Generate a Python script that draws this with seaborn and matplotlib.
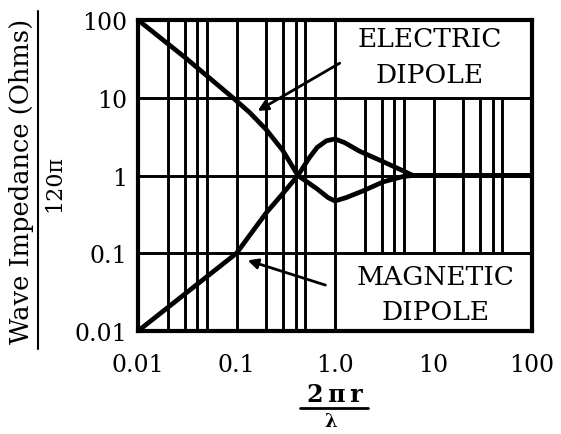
import matplotlib
matplotlib.use("Agg")
import matplotlib.pyplot as plt
import seaborn as sns
import pandas as pd
from matplotlib.lines import Line2D

# ---- data ----
electric_x = [0.01, 0.03, 0.092, 0.137, 0.2, 0.295, 0.42, 0.66, 0.85, 1.0, 1.3, 1.9, 3.1, 4.9, 6.2, 100]
electric_y = [100, 33, 10, 6.4, 3.9, 2.1, 1.0, 0.67, 0.52, 0.47, 0.52, 0.63, 0.83, 0.97, 1.0, 1.0]
magnetic_x = [0.01, 0.03, 0.1, 0.2, 0.3, 0.42, 0.55, 0.66, 0.82, 1.0, 1.25, 1.78, 3.1, 4.9, 6.2, 100]
magnetic_y = [0.01, 0.03, 0.1, 0.33, 0.6, 1.0, 1.7, 2.3, 2.8, 2.95, 2.65, 2.05, 1.5, 1.15, 1.0, 1.0]

x_ticks = [0.01, 0.1, 1.0, 10, 100]
x_tick_labels = ["0.01", "0.1", "1.0", "10", "100"]
y_ticks = [0.01, 0.1, 1, 10, 100]
y_tick_labels = ["0.01", "0.1", "1", "10", "100"]

full_vlines = [0.02, 0.03, 0.04, 0.05, 0.1, 0.2, 0.3, 0.4, 0.5, 1.0]
partial_vlines = [2, 3, 4, 5, 10, 20, 30, 40, 50]
hlines = [0.1, 1, 10]

sns.set_style("white")
plt.rcParams['font.family'] = ['DejaVu Serif']
plt.rcParams['text.color'] = 'black'
plt.rcParams['xtick.color'] = 'black'
plt.rcParams['ytick.color'] = 'black'
plt.rcParams['axes.labelcolor'] = 'black'

fig = plt.figure(figsize=(5.61, 4.35), dpi=100)
ax = fig.add_axes([138/561, 1-332/435, (532-138)/561, (332-21)/435])
ax.set_xscale("log")
ax.set_yscale("log")
ax.set_xlim(0.01, 100)
ax.set_ylim(0.01, 100)

gl = 2.1
for v in full_vlines:
    ax.axvline(v, color="black", lw=gl, zorder=1)
ax.vlines(partial_vlines, 0.1, 10, color="black", lw=gl, zorder=1)
for h in hlines:
    ax.axhline(h, color="black", lw=gl, zorder=1)

df = pd.concat([
    pd.DataFrame({"x": electric_x, "y": electric_y, "dipole": "Electric"}),
    pd.DataFrame({"x": magnetic_x, "y": magnetic_y, "dipole": "Magnetic"}),
])
sns.lineplot(data=df, x="x", y="y", hue="dipole", palette=["black", "black"],
             lw=3.4, legend=False, ax=ax, zorder=3, sort=False, estimator=None)
for ln in ax.get_lines()[-2:]:
    ln.set_solid_joinstyle("round")
    ln.set_solid_capstyle("round")

ax.set_xticks(x_ticks)
ax.set_xticklabels(x_tick_labels)
ax.set_yticks(y_ticks)
ax.set_yticklabels(y_tick_labels)
ax.minorticks_off()
ax.tick_params(length=0, labelsize=17)
ax.tick_params(axis="y", pad=8)
ax.tick_params(axis="x", pad=16)
ax.set_xlabel("")
ax.set_ylabel("")
for s in ax.spines.values():
    s.set_linewidth(3)
    s.set_color("black")

# labels
lab_kw = dict(fontsize=19, ha="center", va="center", zorder=4)
ax.text(9.2, 57, "ELECTRIC", **lab_kw)
ax.text(9.2, 20, "DIPOLE", **lab_kw)
ax.text(10.4, 0.05, "MAGNETIC", **lab_kw)
ax.text(10.4, 0.018, "DIPOLE", **lab_kw)

arrow = dict(arrowstyle="-|>,head_length=0.6,head_width=0.3", color="black", lw=2)
ax.annotate("", xy=(0.155, 6.5), xytext=(1.18, 29), arrowprops=arrow, zorder=4)
ax.annotate("", xy=(0.122, 0.083), xytext=(0.85, 0.038), arrowprops=arrow, zorder=4)

# y axis label as fraction
fig.text(22/561, 1-181/435, "Wave Impedance (Ohms)", rotation=90, fontsize=18.5,
         ha="center", va="center")
fig.add_artist(Line2D([38/561, 38/561], [1-350/435, 1-12/435], color="black", lw=1.5,
                      transform=fig.transFigure))
fig.text(54/561, 1-184/435, "120π", rotation=90, fontsize=16, ha="center", va="center")

# x axis label as fraction
fig.text(335/561, 1-402/435, "2\u2009π\u2009r", fontsize=17, ha="center", va="baseline",
         fontweight="bold")
fig.add_artist(Line2D([300/561, 368/561], [1-409/435, 1-409/435], color="black", lw=2,
                      transform=fig.transFigure))
fig.text(331/561, 1-413/435, "\u03bb", fontsize=13, ha="center", va="top", fontweight="bold")

fig.savefig("out.png", dpi=100)
